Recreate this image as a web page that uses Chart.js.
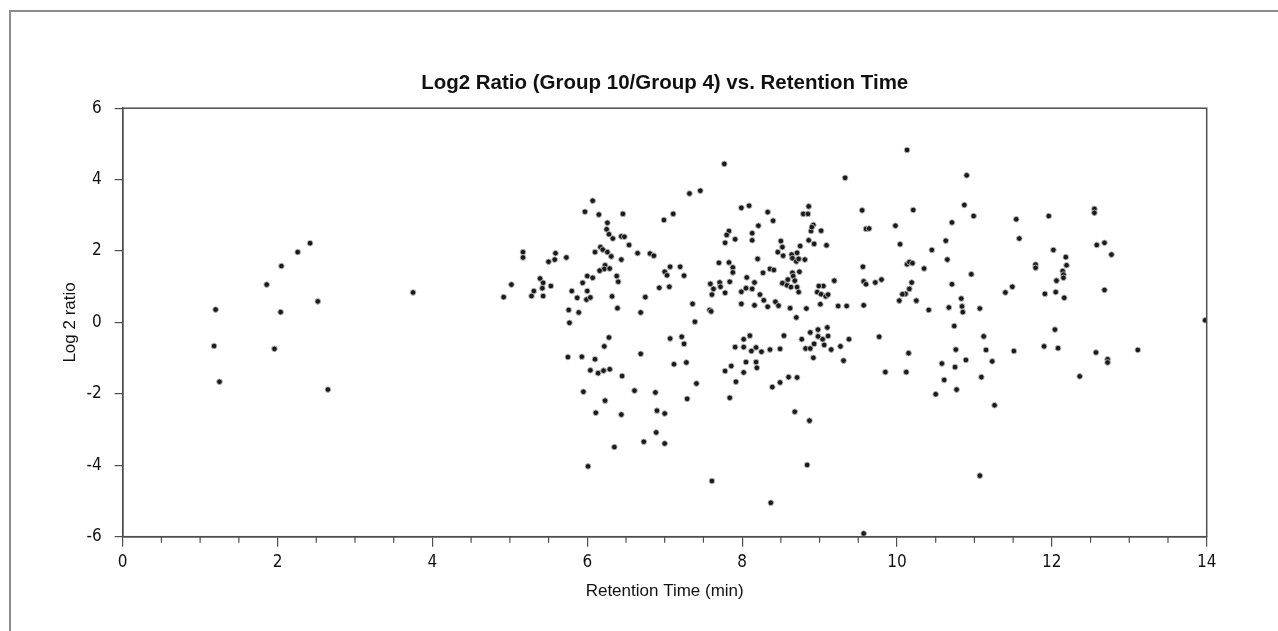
<!DOCTYPE html>
<html>
<head>
<meta charset="utf-8">
<script src="https://cdn.jsdelivr.net/npm/chart.js@4.4.1/dist/chart.umd.min.js"></script>
<style>
  html, body { margin: 0; padding: 0; background: #fff; overflow: hidden; }
  #marco { position: absolute; left: 9px; top: 10px; width: 1400px; height: 800px;
           border-left: 2px solid #8c8c8c; border-top: 2px solid #8c8c8c; }
  #contenedor { position: absolute; left: 0; top: 0; width: 1278px; height: 631px; }
</style>
</head>
<body>
<div id="marco"></div>
<div id="contenedor"><canvas id="canvasRatio"></canvas></div>
<script>
// Datos (tiempo de retencion en min, log2 ratio)
const retentionTime = [
  1.20, 1.86, 2.05, 2.26, 2.42, 2.04, 2.52, 3.75,
  1.18, 1.25, 1.96, 2.65,
  4.92, 5.02, 5.17, 5.17, 5.28, 5.31, 5.39, 5.43, 5.42, 5.43, 5.53, 5.50, 5.58, 5.59, 5.73, 5.80,
  5.87, 5.76, 5.89, 5.77, 5.94, 6.00, 6.07, 6.00, 5.99, 6.04, 5.97, 6.07, 6.15, 6.26, 6.25, 6.28,
  6.33, 6.44, 6.48, 6.46, 6.54, 6.10, 6.17, 6.20, 6.26, 6.31, 6.44, 6.23, 6.22, 6.16, 6.29, 6.38,
  6.40, 6.32, 6.39, 6.28, 6.65, 6.81, 6.86, 6.75, 6.69, 6.93, 7.06, 7.00, 7.03, 7.07, 7.20, 7.25,
  6.99, 7.11, 7.32, 7.46, 7.36, 7.39, 7.07, 7.22,
  5.75, 5.93, 5.95, 6.01, 6.10, 6.04, 6.14, 6.21, 6.29, 6.22, 6.23, 6.11, 6.35, 6.44, 6.45, 6.61,
  6.69, 6.73, 6.88, 6.90, 7.00, 6.89, 7.00, 7.25, 7.12, 7.28, 7.29, 7.41,
  7.77, 7.99, 8.09, 8.33, 8.40, 8.21, 7.83, 7.80, 7.78, 7.91, 8.13, 8.13, 8.50, 8.52, 8.46, 8.53,
  8.64, 8.65, 8.71, 8.70, 8.73, 8.81, 8.75, 8.79, 8.85, 8.86, 8.89, 8.92, 8.90, 9.02, 8.86, 8.93,
  9.09, 7.70, 7.83, 7.88, 7.88, 7.84, 7.71, 7.72, 7.59, 7.63, 7.61, 7.78, 7.58, 7.60, 7.99, 8.06,
  8.05, 8.13, 8.16, 8.20, 8.27, 8.36, 8.41, 8.23, 8.28, 8.33, 8.43, 8.47, 8.16, 7.99, 8.55, 8.52,
  8.59, 8.58, 8.63, 8.65, 8.66, 8.68, 8.71, 8.74, 8.73, 8.62, 8.70, 8.83, 8.97, 9.02, 9.05, 8.99,
  9.08, 9.11, 9.01, 9.19, 9.24, 9.35, 9.33, 9.55, 9.60, 9.64, 9.56, 9.57, 9.60, 9.72, 9.80, 9.57,
  10.13, 10.21, 9.98, 10.04, 10.45, 10.35, 10.13, 10.16, 10.20, 10.19, 10.16, 10.11, 10.07, 10.03,
  10.25, 10.41, 10.63, 10.71, 10.90, 10.87, 10.65, 10.71, 10.67, 10.83, 10.84, 10.85, 10.74,
  8.10, 8.02, 8.54, 8.77, 8.88, 8.98, 8.98, 9.10, 9.11, 9.04, 9.38, 9.77,
  7.78, 7.86, 7.91, 7.84, 7.92, 8.02, 8.05, 8.02, 8.12, 8.18, 8.18, 8.19, 8.25, 8.36, 8.39, 8.49,
  8.49, 8.60, 8.71, 8.68, 8.87, 8.84, 8.37, 7.61, 9.57, 8.82, 8.88, 8.93, 8.92, 9.06, 9.15, 9.27,
  9.31, 9.85, 10.12, 10.15, 10.50, 10.58, 10.61, 10.76, 10.75, 10.77, 10.89,
  10.99, 11.54, 11.58, 11.96, 12.55, 12.55, 12.58, 12.68, 12.77, 12.02, 12.18, 12.19, 12.14, 12.15,
  12.15, 12.06, 12.05, 12.16, 11.91, 11.79, 11.79, 10.96, 11.49, 11.40, 12.68, 11.07, 12.04, 11.12,
  13.98,
  11.15, 11.23, 11.09, 11.26, 11.07, 11.51, 11.90, 12.08, 12.36, 12.57, 12.72, 12.72, 13.11
];
const log2Ratio = [
  0.36, 1.06, 1.58, 1.97, 2.22, 0.29, 0.59, 0.84,
  -0.66, -1.66, -0.74, -1.88,
  0.71, 1.06, 1.97, 1.82, 0.74, 0.88, 1.23, 1.11, 0.96, 0.74, 1.02, 1.70, 1.76, 1.94, 1.82, 0.88,
  0.69, 0.35, 0.28, -0.01, 1.11, 1.30, 1.25, 0.88, 0.64, 0.70, 3.10, 3.41, 3.02, 2.79, 2.61, 2.47,
  2.35, 2.41, 2.40, 3.04, 2.17, 1.97, 2.11, 2.04, 1.97, 1.85, 1.76, 1.60, 1.50, 1.45, 1.51, 1.30,
  1.14, 0.73, 0.40, -0.42, 1.94, 1.93, 1.87, 0.71, 0.28, 0.97, 1.00, 1.42, 1.32, 1.56, 1.56, 1.31,
  2.87, 3.04, 3.61, 3.69, 0.52, 0.02, -0.45, -0.40,
  -0.97, -0.96, -1.94, -4.03, -1.03, -1.34, -1.42, -1.35, -1.31, -0.67, -2.19, -2.53, -3.49, -2.58, -1.50, -1.91,
  -0.88, -3.34, -1.96, -2.47, -2.55, -3.08, -3.39, -0.60, -1.17, -1.12, -2.14, -1.71,
  4.44, 3.21, 3.27, 3.09, 2.85, 2.71, 2.56, 2.45, 2.23, 2.33, 2.50, 2.30, 2.28, 2.11, 1.97, 1.87,
  1.90, 1.80, 1.95, 1.71, 1.78, 1.76, 2.14, 3.04, 3.04, 3.25, 2.56, 2.73, 2.67, 2.57, 2.30, 2.20,
  2.16, 1.67, 1.68, 1.54, 1.40, 1.14, 1.12, 1.00, 1.08, 0.94, 0.78, 0.83, 0.35, 0.31, 0.86, 1.26,
  0.96, 0.94, 1.12, 1.78, 1.39, 1.50, 1.47, 0.78, 0.62, 0.44, 0.58, 0.47, 0.48, 0.52, 1.09, 1.10,
  1.20, 1.04, 0.99, 1.39, 1.30, 1.17, 0.99, 1.42, 0.85, 0.40, 0.14, 0.39, 0.85, 0.79, 1.02, 1.02,
  0.73, 0.78, 0.51, 1.17, 0.46, 0.46, 4.05, 3.14, 2.62, 2.63, 1.56, 1.15, 1.07, 1.12, 1.20, 0.48,
  4.83, 3.15, 2.71, 2.19, 2.03, 1.51, 1.63, 1.69, 1.66, 1.12, 0.94, 0.80, 0.79, 0.61,
  0.61, 0.35, 2.29, 2.80, 4.12, 3.29, 1.76, 1.07, 0.42, 0.67, 0.45, 0.29, -0.10,
  -0.37, -0.47, -0.37, -0.47, -0.28, -0.20, -0.39, -0.14, -0.38, -0.47, -0.47, -0.40,
  -1.36, -1.22, -0.69, -2.11, -1.66, -0.69, -1.11, -1.40, -0.80, -0.70, -1.11, -1.27, -0.82, -0.76, -1.81, -1.68,
  -0.74, -1.53, -1.54, -2.50, -2.75, -3.99, -5.05, -4.44, -5.91, -0.73, -0.73, -0.60, -0.99, -0.63, -0.76, -0.67,
  -1.07, -1.39, -1.39, -0.86, -2.01, -1.15, -1.61, -0.76, -1.25, -1.88, -1.05,
  2.98, 2.89, 2.35, 2.98, 3.18, 3.07, 2.17, 2.23, 1.90, 2.03, 1.83, 1.60, 1.44, 1.34,
  1.25, 1.17, 0.85, 0.69, 0.80, 1.62, 1.53, 1.35, 1.00, 0.84, 0.91, 0.39, -0.20, -0.39,
  0.06,
  -0.77, -1.09, -1.53, -2.32, -4.29, -0.80, -0.67, -0.72, -1.51, -0.84, -1.03, -1.12, -0.77
];

// Marcas de los ejes
const xTicks = [0, 2, 4, 6, 8, 10, 12, 14];
const yTicks = [-6, -4, -2, 0, 2, 4, 6];

const colorEje = '#4d4d4d';
const fuenteTexto = '"Liberation Sans", Arial, sans-serif';
const fuenteNumeros = '"Liberation Sans Narrow", "Arial Narrow", "DejaVu Sans Condensed", "Liberation Sans", sans-serif';

const puntos = retentionTime.map((t, i) => ({ x: t, y: log2Ratio[i] }));

// Caja del area de trazado y marcas menores del eje x
const cajaYMarcas = {
    id: 'cajaYMarcas',
    afterDraw(chart) {
        const { ctx, chartArea, scales } = chart;
        ctx.save();
        ctx.strokeStyle = colorEje;
        ctx.lineWidth = 1.5;
        ctx.strokeRect(chartArea.left, chartArea.top, chartArea.right - chartArea.left, chartArea.bottom - chartArea.top);
        ctx.lineWidth = 1.2;
        for (let v = 0.5; v < 14; v += 0.5) {
            if (v % 2 === 0) continue;
            const px = scales.x.getPixelForValue(v);
            ctx.beginPath();
            ctx.moveTo(px, chartArea.bottom);
            ctx.lineTo(px, chartArea.bottom + 6);
            ctx.stroke();
        }
        ctx.restore();
    }
};

const ctx = document.getElementById('canvasRatio').getContext('2d');
new Chart(ctx, {
    type: 'scatter',
    data: {
        datasets: [{
            label: 'Log2 ratio',
            data: puntos,
            pointRadius: 2.8,
            pointBackgroundColor: '#1a1a1a',
            pointBorderColor: 'rgba(185,185,185,0.9)',
            pointBorderWidth: 1
        }]
    },
    options: {
        responsive: true,
        maintainAspectRatio: false,
        animation: false,
        layout: { padding: { left: 0, right: 71.3, top: 0, bottom: 0 } },
        plugins: {
            legend: { display: false },
            tooltip: { enabled: false },
            title: {
                display: true,
                fullSize: false,
                text: 'Log2 Ratio (Group 10/Group 4) vs. Retention Time',
                color: '#111',
                font: { family: fuenteTexto, size: 20.5, weight: 'bold' },
                padding: { top: 71, bottom: 12.6 }
            }
        },
        scales: {
            x: {
                type: 'linear',
                min: 0,
                max: 14,
                afterBuildTicks: s => { s.ticks = xTicks.map(v => ({ value: v })); },
                afterFit: s => { s.height = 94.3; },
                ticks: { color: '#111', font: { family: fuenteNumeros, size: 17 }, padding: 6, maxRotation: 0, autoSkip: false },
                grid: { drawOnChartArea: false, tickLength: 10, color: colorEje, lineWidth: 1.2 },
                border: { display: true, color: colorEje, width: 1.5 },
                title: {
                    display: true,
                    text: 'Retention Time (min)',
                    color: '#111',
                    font: { family: fuenteTexto, size: 17 },
                    padding: { top: 0, bottom: 29.4 }
                }
            },
            y: {
                type: 'linear',
                min: -6,
                max: 6,
                afterBuildTicks: s => { s.ticks = yTicks.map(v => ({ value: v })); },
                afterFit: s => { s.width = 122.7; },
                ticks: { color: '#111', font: { family: fuenteNumeros, size: 17 }, padding: 13 },
                grid: { drawOnChartArea: false, tickLength: 8, color: colorEje, lineWidth: 1.2 },
                border: { display: true, color: colorEje, width: 1.5 },
                title: {
                    display: true,
                    text: 'Log 2 ratio',
                    color: '#111',
                    font: { family: fuenteTexto, size: 17 },
                    padding: { top: 60.4, bottom: 0 }
                }
            }
        }
    },
    plugins: [cajaYMarcas]
});
</script>
</body>
</html>
